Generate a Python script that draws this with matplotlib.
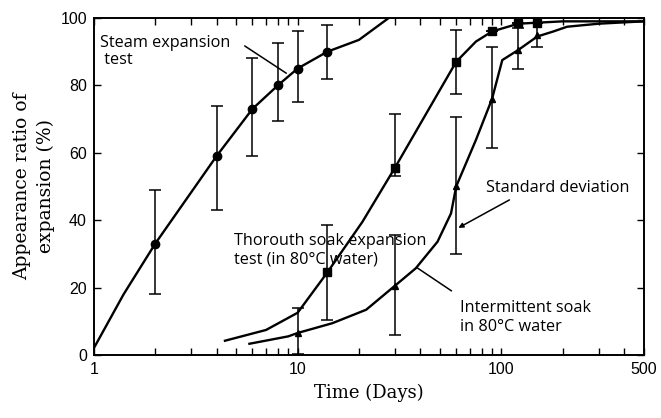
"""Appearance ratio of expansion vs. time for three expansion tests."""

import matplotlib

matplotlib.use("Agg")

import matplotlib.pyplot as plt
from matplotlib.ticker import FixedLocator, NullFormatter


# Steam expansion test (circles)
steam_days = [2, 4, 6, 8, 10, 14]
steam_mean = [33, 59, 73, 80, 85, 90]
steam_low = [18, 43, 59, 69.5, 75, 82]
steam_high = [49, 74, 88, 92.5, 96, 98]
steam_curve_x = [1, 1.4, 2, 4, 6, 8, 10, 14, 20, 28]
steam_curve_y = [2, 18, 33, 59, 73, 80, 85, 90, 93.5, 100]

# Thorough soak expansion test in 80 C water (squares)
soak_days = [14, 30, 60, 90, 121, 150]
soak_mean = [24.5, 55.5, 87, 96, 98.5, 98.5]
soak_low = [10.4, 53, 77.4, 96, 98.5, 98.5]
soak_high = [38.5, 71.5, 96.5, 96, 98.5, 98.5]
soak_curve_x = [4.4, 7, 10, 14, 20.8, 30, 60, 75, 90, 121, 150, 200, 300, 500]
soak_curve_y = [4.2, 7.4, 12.5, 24.5, 39.5, 55.5, 87, 93, 96, 98.3, 98.6, 99, 99, 99]

# Intermittent soak in 80 C water (triangles)
inter_days = [10, 30, 60, 90, 121, 150]
inter_mean = [6.5, 20.5, 50, 76, 90.5, 95]
inter_low = [0.3, 6, 30, 61.4, 85, 91.5]
inter_high = [14, 35.5, 70.5, 91.5, 97, 98.5]
inter_curve_x = [5.8, 9, 10, 14.8, 21.7, 30, 38, 48.6, 56.6, 60, 75, 90, 101,
                 121, 150, 180, 210, 300, 500]
inter_curve_y = [3.3, 5.5, 6.5, 9.4, 13.4, 20.5, 25.7, 33.6, 42, 50, 63.8, 76,
                 87.5, 90.5, 94.5, 96, 97.4, 98.3, 99]

x_major = [1, 10, 100, 500]
x_minor = [2, 3, 4, 5, 6, 7, 8, 9, 20, 30, 40, 50, 60, 70, 80, 90, 200, 300, 400]
y_ticks = [0, 20, 40, 60, 80, 100]

LABEL_FONT = ["DejaVu Serif"]
NOTE_FONT = ["Open Sans", "DejaVu Sans"]
TICK_FONT = ["Liberation Sans Narrow", "Liberation Sans", "DejaVu Sans"]
NOTE_SIZE = 11.7


def draw_series(ax, days, mean, low, high, curve_x, curve_y, marker, size):
    ax.plot(curve_x, curve_y, color="black", lw=1.7, zorder=2)
    yerr = [[m - lo for m, lo in zip(mean, low)], [hi - m for m, hi in zip(mean, high)]]
    ax.errorbar(
        days, mean, yerr=yerr, fmt=marker, color="black", ms=size,
        ecolor="black", elinewidth=1.1, capsize=4.5, capthick=1.1, zorder=3,
    )


def pointer(ax, start, end, style="-"):
    ax.annotate("", xy=end, xytext=start,
                arrowprops=dict(arrowstyle=style, color="black", lw=1.1,
                                mutation_scale=7, shrinkA=0, shrinkB=0))


def main() -> None:
    fig = plt.figure(figsize=(6.61, 4.18), dpi=100, facecolor="white")
    ax = fig.add_axes([0.142, 0.151, 0.832, 0.806])

    draw_series(ax, steam_days, steam_mean, steam_low, steam_high,
                steam_curve_x, steam_curve_y, "o", 6)
    draw_series(ax, soak_days, soak_mean, soak_low, soak_high,
                soak_curve_x, soak_curve_y, "s", 5.5)
    draw_series(ax, inter_days, inter_mean, inter_low, inter_high,
                inter_curve_x, inter_curve_y, "^", 4.5)

    ax.set_xscale("log")
    ax.set_xlim(1, 500)
    ax.set_ylim(0, 100)
    ax.xaxis.set_major_locator(FixedLocator(x_major))
    ax.xaxis.set_minor_locator(FixedLocator(x_minor))
    ax.xaxis.set_minor_formatter(NullFormatter())
    ax.set_xticklabels([str(v) for v in x_major])
    ax.set_yticks(y_ticks)
    ax.tick_params(which="both", direction="in", top=True, right=True,
                   length=5, width=1, labelsize=11.5, pad=5)
    for label in ax.get_xticklabels() + ax.get_yticklabels():
        label.set_family(TICK_FONT)
    for spine in ax.spines.values():
        spine.set_linewidth(1.4)

    ax.set_xlabel("Time (Days)", fontsize=13, family=LABEL_FONT, labelpad=5)
    ax.set_ylabel("Appearance ratio of\nexpansion (%)", fontsize=13.5,
                  family=LABEL_FONT, labelpad=4, linespacing=1.35)

    ax.text(1.07, 90, "Steam expansion\n test", fontsize=NOTE_SIZE,
            family=NOTE_FONT, linespacing=1.1, va="center")
    pointer(ax, (5.5, 91.7), (8.8, 83.6))

    ax.text(4.9, 31, "Thorouth soak expansion\ntest (in 80°C water)",
            fontsize=NOTE_SIZE, family=NOTE_FONT, linespacing=1.25, va="center")

    ax.text(84, 49.5, "Standard deviation", fontsize=NOTE_SIZE,
            family=NOTE_FONT, va="center")
    pointer(ax, (109.5, 46), (61.5, 37.7), style="-|>")

    ax.text(62.3, 11.2, "Intermittent soak\nin 80°C water", fontsize=NOTE_SIZE,
            family=NOTE_FONT, linespacing=1.25, va="center")
    pointer(ax, (56.9, 19), (38.7, 25.8))

    fig.savefig("out.png", dpi=100, facecolor="white")
    plt.close(fig)


if __name__ == "__main__":
    main()
